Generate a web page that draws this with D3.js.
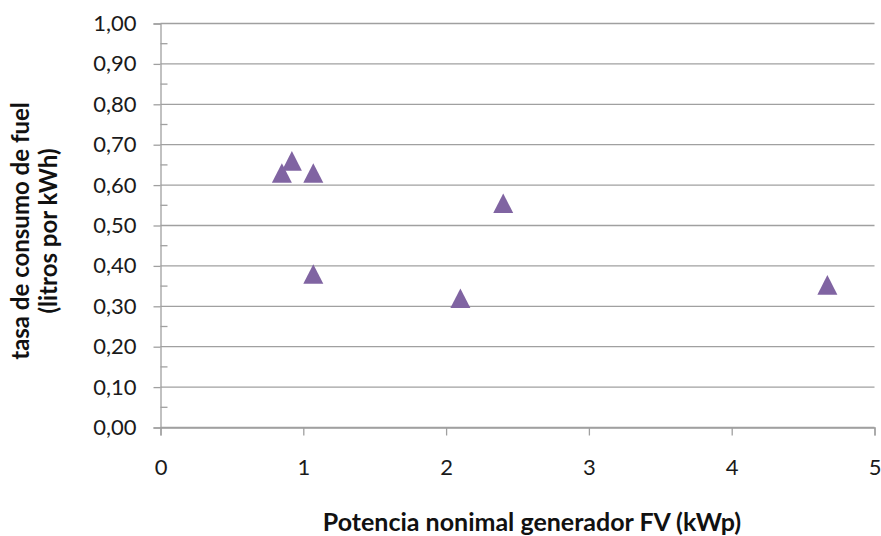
<!DOCTYPE html>
<html>
<head>
<meta charset="utf-8">
<script src="https://cdn.jsdelivr.net/npm/d3@7"></script>
<style>
  body { margin: 0; background: #fff; }
  text { font-family: Lato, "Open Sans", sans-serif; fill: #111; }
</style>
</head>
<body>
<div id="chart"></div>
<script>
"use strict";

// potencia nominal del generador FV (kWp)
var potencia = [0.85, 0.92, 1.07, 1.07, 2.10, 2.40, 4.67];
// tasa de consumo de fuel (litros por kWh)
var consumo = [0.63, 0.66, 0.63, 0.38, 0.32, 0.555, 0.353];

var xTicks = [0, 1, 2, 3, 4, 5];
var yTicks = [0, 0.1, 0.2, 0.3, 0.4, 0.5, 0.6, 0.7, 0.8, 0.9, 1.0];
var yMinor = [0.05, 0.15, 0.25, 0.35, 0.45, 0.55, 0.65, 0.75, 0.85, 0.95];

var xTitle = "Potencia nonimal generador FV (kWp)";
var yTitle = ["tasa de consumo de fuel", "(litros por kWh)"];

var width = 881, height = 536;
var margin = { top: 23.5, right: 6.5, bottom: 108.5, left: 160.5 };
var w = width - margin.left - margin.right,
  h = height - margin.top - margin.bottom;

var grey = "#a0a0a0";

var svg = d3
  .select("#chart")
  .append("svg")
  .attr("width", width)
  .attr("height", height);

var g = svg
  .append("g")
  .attr("transform", "translate(" + margin.left + "," + margin.top + ")");

var x = d3.scaleLinear().domain([0, 5]).range([0, w]);
var y = d3.scaleLinear().domain([0, 1]).range([h, 0]);

// horizontal gridlines
g.selectAll(".grid")
  .data(yTicks)
  .enter()
  .append("line")
  .attr("x1", 0)
  .attr("x2", w)
  .attr("y1", function(d) { return y(d); })
  .attr("y2", function(d) { return y(d); })
  .attr("stroke", grey)
  .attr("stroke-width", 1.3);

// y axis
var yAxis = g
  .append("g")
  .call(
    d3.axisLeft(y)
      .tickValues(yTicks)
      .tickSize(7)
      .tickPadding(17)
      .tickFormat(function(d) { return d3.format(".2f")(d).replace(".", ","); })
  );
yAxis.select(".domain").attr("stroke", grey).attr("stroke-width", 1.3);
yAxis.selectAll(".tick line").attr("stroke", grey).attr("stroke-width", 1.3);
yAxis.selectAll(".tick text")
  .style("font-size", "22px")
  .style("fill", "#1a1a1a");

// minor ticks inside
g.selectAll(".minor")
  .data(yMinor)
  .enter()
  .append("line")
  .attr("x1", 0)
  .attr("x2", 7)
  .attr("y1", function(d) { return y(d); })
  .attr("y2", function(d) { return y(d); })
  .attr("stroke", grey)
  .attr("stroke-width", 1.3);

// x axis
var xAxis = g
  .append("g")
  .attr("transform", "translate(0," + h + ")")
  .call(
    d3.axisBottom(x)
      .tickValues(xTicks)
      .tickSize(8)
      .tickPadding(24)
      .tickFormat(d3.format("d"))
  );
xAxis.select(".domain").attr("stroke", grey).attr("stroke-width", 1.3);
xAxis.selectAll(".tick line").attr("stroke", grey).attr("stroke-width", 1.3);
xAxis.selectAll(".tick text")
  .style("font-size", "22px")
  .style("fill", "#1a1a1a");

// triangle marker centred on its bounding box, like the spreadsheet ones
var triangle = {
  draw: function(ctx) {
    var hw = 10, hh = 9.8;
    ctx.moveTo(0, -hh);
    ctx.lineTo(hw, hh);
    ctx.lineTo(-hw, hh);
    ctx.closePath();
  }
};
g.selectAll(".pt")
  .data(potencia.map(function(p, i) { return { x: p, y: consumo[i] }; }))
  .enter()
  .append("path")
  .attr("d", d3.symbol().type(triangle))
  .attr("transform", function(d) {
    return "translate(" + x(d.x) + "," + y(d.y) + ")";
  })
  .attr("fill", "#8064a2");

// axis titles
svg.append("text")
  .attr("x", 532)
  .attr("y", 531)
  .attr("text-anchor", "middle")
  .style("font-size", "25px")
  .style("font-weight", "bold")
  .text(xTitle);

var yt = svg.append("text")
  .attr("transform", "translate(29,231) rotate(-90)")
  .attr("text-anchor", "middle")
  .style("font-size", "24px")
  .style("font-weight", "bold");
yTitle.forEach(function(t, i) {
  yt.append("tspan")
    .attr("x", 0)
    .attr("dy", i === 0 ? 0 : 28)
    .text(t);
});
</script>
</body>
</html>
